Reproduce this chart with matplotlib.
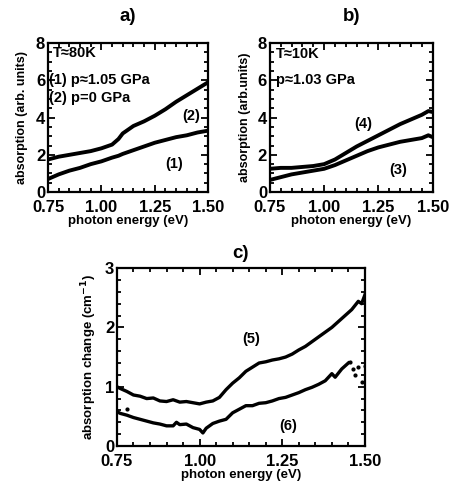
import numpy as np
import matplotlib
matplotlib.use('Agg')
import matplotlib.pyplot as plt
from matplotlib.ticker import MultipleLocator

plt.rcParams['font.family'] = ['Liberation Sans', 'DejaVu Sans']
plt.rcParams['font.weight'] = 'bold'

# Panel a) T=80K
xA = [0.75, 0.80, 0.85, 0.90, 0.95, 1.00, 1.05, 1.08, 1.10, 1.15, 1.20, 1.25, 1.30, 1.35, 1.40, 1.45, 1.50]
curve2 = [1.75, 1.9, 2.0, 2.1, 2.2, 2.35, 2.55, 2.85, 3.15, 3.55, 3.8, 4.1, 4.45, 4.85, 5.2, 5.55, 5.9]
curve1 = [0.7, 0.95, 1.15, 1.3, 1.5, 1.65, 1.85, 1.95, 2.05, 2.25, 2.45, 2.65, 2.8, 2.95, 3.05, 3.2, 3.3]

# Panel b) T=10K
xB = [0.75, 0.80, 0.85, 0.90, 0.95, 1.00, 1.05, 1.10, 1.15, 1.20, 1.25, 1.30, 1.35, 1.40, 1.45, 1.48, 1.50]
curve4 = [1.25, 1.3, 1.3, 1.35, 1.4, 1.5, 1.75, 2.1, 2.45, 2.75, 3.05, 3.35, 3.65, 3.9, 4.15, 4.35, 4.3]
curve3 = [0.65, 0.8, 0.95, 1.05, 1.15, 1.25, 1.45, 1.7, 1.95, 2.2, 2.4, 2.55, 2.7, 2.8, 2.9, 3.05, 2.95]

# Panel c) absorption change
xC = [0.75, 0.76, 0.78, 0.80, 0.82, 0.84, 0.86, 0.88, 0.90, 0.92, 0.94, 0.96, 0.98, 1.00, 1.02,
      1.04, 1.06, 1.08, 1.10, 1.12, 1.14, 1.16, 1.18, 1.20, 1.22, 1.24, 1.26, 1.28, 1.30, 1.32,
      1.34, 1.36, 1.38, 1.40, 1.42, 1.44, 1.46, 1.48, 1.49, 1.50]
curve5 = [1.0, 0.97, 0.92, 0.86, 0.84, 0.8, 0.81, 0.76, 0.75, 0.78, 0.74, 0.75, 0.73, 0.71, 0.74,
          0.76, 0.82, 0.95, 1.06, 1.15, 1.26, 1.33, 1.4, 1.42, 1.45, 1.47, 1.5, 1.55, 1.62, 1.68,
          1.76, 1.84, 1.92, 2.0, 2.1, 2.2, 2.3, 2.44, 2.4, 2.55]
xC6 = [0.75, 0.76, 0.78, 0.80, 0.82, 0.84, 0.86, 0.88, 0.90, 0.92, 0.93, 0.94, 0.96, 0.98, 1.00,
       1.01, 1.02, 1.04, 1.06, 1.08, 1.10, 1.12, 1.14, 1.16, 1.18, 1.20, 1.22, 1.24, 1.26, 1.28,
       1.30, 1.32, 1.34, 1.36, 1.38, 1.40, 1.41, 1.43, 1.45]
curve6 = [0.58, 0.55, 0.52, 0.48, 0.45, 0.42, 0.39, 0.37, 0.34, 0.34, 0.40, 0.36, 0.37, 0.31, 0.28,
          0.22, 0.30, 0.38, 0.42, 0.45, 0.56, 0.62, 0.68, 0.68, 0.72, 0.73, 0.76, 0.8, 0.82, 0.86,
          0.9, 0.95, 0.99, 1.04, 1.1, 1.22, 1.16, 1.3, 1.4]
dotsX = [0.78, 1.455, 1.465, 1.47, 1.48, 1.49, 1.50]
dotsY = [0.62, 1.42, 1.3, 1.2, 1.33, 1.08, 1.35]

xTicks = [0.75, 1.0, 1.25, 1.5]
xTickLabels = ['0.75', '1.00', '1.25', '1.50']


def styleAx(ax, ymax, ymajor, yminor):
    ax.set_xlim(0.75, 1.5)
    ax.set_ylim(0, ymax)
    ax.set_xticks(xTicks)
    ax.set_xticklabels(xTickLabels, fontweight='bold')
    ax.xaxis.set_minor_locator(MultipleLocator(0.05))
    ax.yaxis.set_major_locator(MultipleLocator(ymajor))
    ax.yaxis.set_minor_locator(MultipleLocator(yminor))
    ax.tick_params(which='both', direction='in', top=True, right=True, width=1.3, labelsize=12)
    ax.tick_params(axis='x', pad=5.5)
    ax.tick_params(axis='y', pad=2)
    ax.tick_params(which='major', length=5)
    ax.tick_params(which='minor', length=3)
    for s in ax.spines.values():
        s.set_linewidth(1.6)
    for lbl in ax.get_yticklabels():
        lbl.set_fontweight('bold')
    ax.set_xlabel('photon energy (eV)', fontsize=9.5, fontweight='bold', labelpad=0)


fig = plt.figure(figsize=(4.55, 4.9), dpi=100)

# a)
ax1 = fig.add_axes([0.1055, 0.608, 0.352, 0.304])
ax1.plot(xA, curve2, 'k', lw=2.8)
ax1.plot(xA, curve1, 'k', lw=2.8)
styleAx(ax1, 8, 2, 0.5)
ax1.set_ylabel('absorption (arb. units)', fontsize=9, fontweight='bold', labelpad=6)
ax1.set_title('a)', fontsize=13.5, fontweight='bold', pad=16)
ax1.text(0.775, 7.45, 'T≈80K', fontsize=10.5, fontweight='bold', va='center')
ax1.text(0.757, 6.0, '(1) p≈1.05 GPa', fontsize=10.5, fontweight='bold', va='center')
ax1.text(0.757, 5.05, '(2) p=0 GPa', fontsize=10.5, fontweight='bold', va='center')
ax1.text(1.42, 4.1, '(2)', fontsize=10.5, fontweight='bold', ha='center', va='center')
ax1.text(1.34, 1.5, '(1)', fontsize=10.5, fontweight='bold', ha='center', va='center')

# b)
ax2 = fig.add_axes([0.593, 0.608, 0.358, 0.304])
ax2.plot(xB, curve4, 'k', lw=2.8)
ax2.plot(xB, curve3, 'k', lw=2.8)
styleAx(ax2, 8, 2, 0.5)
ax2.set_ylabel('absorption (arb.units)', fontsize=9, fontweight='bold', labelpad=5)
ax2.set_title('b)', fontsize=13.5, fontweight='bold', pad=16)
ax2.text(0.78, 7.4, 'T≈10K', fontsize=10.5, fontweight='bold', va='center')
ax2.text(0.78, 6.0, 'p≈1.03 GPa', fontsize=10.5, fontweight='bold', va='center')
ax2.text(1.18, 3.65, '(4)', fontsize=10.5, fontweight='bold', ha='center', va='center')
ax2.text(1.34, 1.2, '(3)', fontsize=10.5, fontweight='bold', ha='center', va='center')

# c)
ax3 = fig.add_axes([0.257, 0.0898, 0.545, 0.363])
ax3.plot(xC, curve5, 'k', lw=2.4)
ax3.plot(xC6, curve6, 'k', lw=2.4)
ax3.plot(dotsX, dotsY, 'k.', ms=4)
styleAx(ax3, 3, 1, 0.2)
ax3.set_ylabel('absorption change (cm$^{\\mathbf{-1}}$)', fontsize=9.5, fontweight='bold', labelpad=4)
ax3.set_title('c)', fontsize=13.5, fontweight='bold', pad=7)
ax3.text(1.156, 1.8, '(5)', fontsize=10.5, fontweight='bold', ha='center', va='center')
ax3.text(1.268, 0.33, '(6)', fontsize=10.5, fontweight='bold', ha='center', va='center')

fig.savefig('out.png', dpi=100)
